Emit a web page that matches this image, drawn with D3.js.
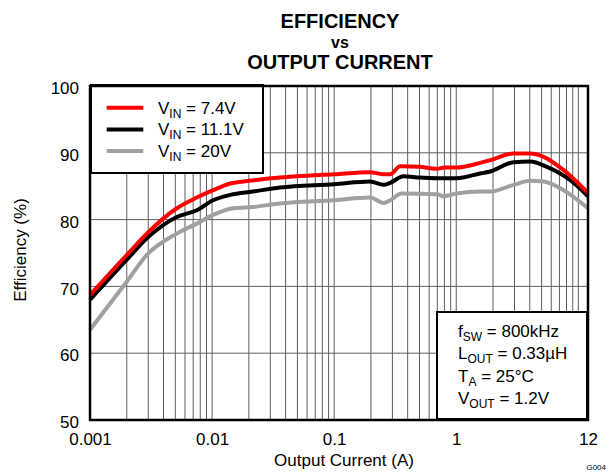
<!DOCTYPE html>
<html>
<head>
<meta charset="utf-8">
<script src="https://cdn.jsdelivr.net/npm/d3@7"></script>
<style>
  html, body { margin: 0; padding: 0; background: #fff; }
  svg { display: block; font-family: "Liberation Sans", Arial, Helvetica, sans-serif; }
</style>
</head>
<body>
<svg id="chart" width="610" height="474"></svg>
<script>
// ---- data ----
const currents74 = [0.001, 0.002, 0.00292, 0.00514, 0.0075, 0.0102, 0.0141, 0.02, 0.036, 0.1, 0.197, 0.25, 0.288, 0.347, 0.5, 0.695, 0.8, 1.0, 1.57, 1.9, 2.95, 4.04, 5.2, 7.58, 12];
const eff74      = [68.7, 74.7, 77.9, 81.7, 83.3, 84.4, 85.4, 85.8, 86.3, 86.8, 87.1, 86.8, 86.8, 88.0, 87.9, 87.6, 87.8, 87.8, 88.5, 88.9, 89.9, 89.9, 89.4, 87.4, 84.0];

const currents111 = [0.001, 0.002, 0.00292, 0.00514, 0.0075, 0.0102, 0.0141, 0.0216, 0.036, 0.1, 0.197, 0.254, 0.288, 0.37, 0.5, 0.7, 1.0, 1.57, 1.9, 2.95, 4.04, 5.53, 8.6, 12];
const eff111      = [68.0, 74.0, 77.2, 80.4, 81.4, 82.9, 83.7, 84.2, 84.8, 85.3, 85.7, 85.2, 85.5, 86.5, 86.3, 86.2, 86.2, 86.9, 87.2, 88.6, 88.7, 87.9, 85.9, 83.5];

const currents20 = [0.001, 0.002, 0.00292, 0.00514, 0.0075, 0.0102, 0.0149, 0.0218, 0.036, 0.1, 0.197, 0.254, 0.288, 0.356, 0.7, 0.78, 1.0, 1.57, 1.9, 2.95, 4.04, 5.2, 7.58, 12];
const eff20      = [63.5, 70.7, 74.7, 77.9, 79.4, 80.7, 81.7, 81.9, 82.4, 82.9, 83.3, 82.5, 82.9, 83.9, 83.8, 83.5, 83.9, 84.2, 84.2, 85.2, 85.8, 85.7, 84.4, 81.7];

const seriesNames  = ["7.4V", "11.1V", "20V"];
const seriesColors = ["#ff0000", "#000000", "#a0a0a0"];

const xTickValues = [0.001, 0.01, 0.1, 1, 12];
const xTickLabels = ["0.001", "0.01", "0.1", "1", "12"];
const yTickValues = [50, 60, 70, 80, 90, 100];

const titleLines = ["EFFICIENCY", "vs", "OUTPUT CURRENT"];
const xAxisTitle = "Output Current (A)";
const yAxisTitle = "Efficiency (%)";
const conditions = [["f", "SW", " = 800kHz"], ["L", "OUT", " = 0.33µH"], ["T", "A", " = 25°C"], ["V", "OUT", " = 1.2V"]];

// ---- layout ----
const L = 90, R = 588, T = 86, B = 420;
const svg = d3.select("#chart");
const x = d3.scaleLog().domain([0.001, 12]).range([L, R]);
const y = d3.scaleLinear().domain([50, 100]).range([B, T]);

// grid
const gridX = [];
[0.001, 0.01, 0.1, 1].forEach(d => { for (let k = 1; k <= 9; k++) gridX.push(d * k); });
gridX.push(10);
const grid = svg.append("g");
grid.selectAll("line.v").data(gridX.filter(v => v > 0.001 && v < 12)).enter().append("line")
  .attr("x1", d => x(d)).attr("x2", d => x(d)).attr("y1", T).attr("y2", B)
  .attr("stroke", "#5e5e5e").attr("stroke-width", 1);
grid.selectAll("line.h").data(yTickValues.filter(v => v > 50 && v < 100)).enter().append("line")
  .attr("x1", L).attr("x2", R).attr("y1", d => y(d)).attr("y2", d => y(d))
  .attr("stroke", "#5e5e5e").attr("stroke-width", 1);

// curves
const series = [
  { c: currents74, e: eff74 },
  { c: currents111, e: eff111 },
  { c: currents20, e: eff20 }
];
const line = d3.line().x(d => x(d[0])).y(d => y(d[1])).curve(d3.curveMonotoneX);
[2, 1, 0].forEach(i => {
  const s = series[i];
  svg.append("path")
    .datum(s.c.map((v, j) => [v, s.e[j]]))
    .attr("d", line).attr("fill", "none")
    .attr("stroke", seriesColors[i]).attr("stroke-width", 4)
    .attr("stroke-linejoin", "round");
});

// legend box
const lg = svg.append("g");
lg.append("rect").attr("x", 91).attr("y", 85).attr("width", 172).attr("height", 88)
  .attr("fill", "#fff").attr("stroke", "#000").attr("stroke-width", 2);
seriesNames.forEach((n, i) => {
  const ly = 107.7 + i * 21.7;
  lg.append("line").attr("x1", 106.7).attr("x2", 143.3).attr("y1", ly).attr("y2", ly)
    .attr("stroke", seriesColors[i]).attr("stroke-width", 4);
  const t = lg.append("text").attr("x", 158).attr("y", ly + 5.8).attr("font-size", 17).attr("fill", "#000");
  t.append("tspan").text("V");
  t.append("tspan").attr("font-size", 12).attr("dy", 4).text("IN");
  t.append("tspan").attr("dy", -4).text(" = " + n);
});

// conditions box
const cg = svg.append("g");
cg.append("rect").attr("x", 437).attr("y", 312).attr("width", 150).attr("height", 107)
  .attr("fill", "#fff").attr("stroke", "#000").attr("stroke-width", 2);
conditions.forEach((c, i) => {
  const t = cg.append("text").attr("x", 458).attr("y", 337 + i * 22.4).attr("font-size", 17).attr("fill", "#000");
  t.append("tspan").text(c[0]);
  t.append("tspan").attr("font-size", 12).attr("dy", 4).text(c[1]);
  t.append("tspan").attr("dy", -4).text(c[2]);
});

// frame
svg.append("rect").attr("x", L).attr("y", T).attr("width", R - L).attr("height", B - T)
  .attr("fill", "none").attr("stroke", "#000").attr("stroke-width", 2.5);

// axes
const xAxis = d3.axisBottom(x).tickValues(xTickValues)
  .tickFormat((d, i) => xTickLabels[i]).tickSize(0).tickPadding(13);
const gx = svg.append("g").attr("transform", `translate(0,${B})`).call(xAxis);
gx.select(".domain").remove();
gx.selectAll("text").attr("font-size", 17).attr("font-family", "Liberation Sans, Arial, sans-serif").attr("fill", "#000");

const yAxis = d3.axisLeft(y).tickValues(yTickValues).tickSize(0).tickPadding(11);
const gy = svg.append("g").attr("transform", `translate(${L},0)`).call(yAxis);
gy.select(".domain").remove();
gy.selectAll("text").attr("font-size", 17).attr("dy", "0.45em").attr("font-family", "Liberation Sans, Arial, sans-serif").attr("fill", "#000");

// titles
const titleY = [28.3, 47.5, 68.9];
const titleSize = [20, 16, 20];
titleLines.forEach((s, i) => {
  svg.append("text").attr("x", 340).attr("y", titleY[i]).attr("text-anchor", "middle")
    .attr("font-size", titleSize[i]).attr("font-weight", "bold").text(s);
});
svg.append("text").attr("x", 344).attr("y", 466).attr("text-anchor", "middle")
  .attr("font-size", 17).text(xAxisTitle);
svg.append("text").attr("transform", "translate(26,250) rotate(-90)").attr("text-anchor", "middle")
  .attr("font-size", 17).text(yAxisTitle);
svg.append("text").attr("x", 606).attr("y", 470).attr("text-anchor", "end")
  .attr("font-size", 8).text("G004");
</script>
</body>
</html>
